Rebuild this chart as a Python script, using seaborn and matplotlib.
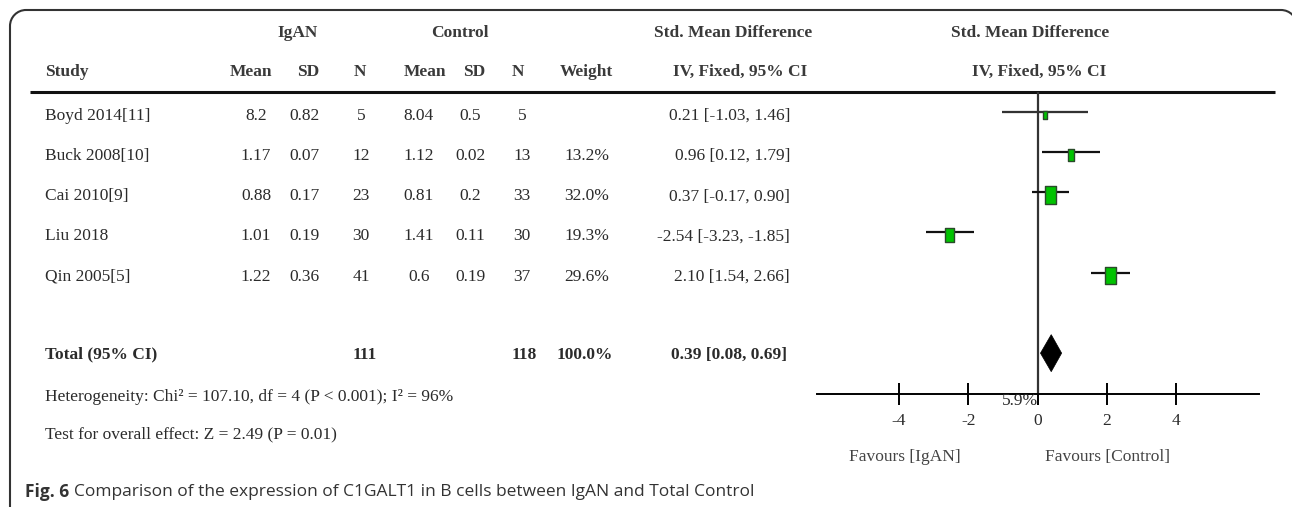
import matplotlib
matplotlib.use("Agg")
import matplotlib.pyplot as plt
import matplotlib.transforms as mtransforms
from matplotlib.patches import PathPatch, Polygon
from matplotlib.path import Path
import numpy as np
import pandas as pd
import seaborn as sns

# ---- study data -------------------------------------------------------
studies = ["Boyd 2014[11]", "Buck 2008[10]", "Cai 2010[9]", "Liu 2018", "Qin 2005[5]"]
igan_mean = [8.2, 1.17, 0.88, 1.01, 1.22]
igan_sd = [0.82, 0.07, 0.17, 0.19, 0.36]
igan_n = [5, 12, 23, 30, 41]
ctrl_mean = [8.04, 1.12, 0.81, 1.41, 0.6]
ctrl_sd = [0.5, 0.02, 0.2, 0.11, 0.19]
ctrl_n = [5, 13, 33, 30, 37]
weight = [5.9, 13.2, 32.0, 19.3, 29.6]
smd = [0.21, 0.96, 0.37, -2.54, 2.10]
ci_low = [-1.03, 0.12, -0.17, -3.23, 1.54]
ci_high = [1.46, 1.79, 0.90, -1.85, 2.66]

total_igan_n = 111
total_ctrl_n = 118
total_weight = 100.0
total_smd = 0.39
total_low = 0.08
total_high = 0.69

heterogeneity = "Heterogeneity: Chi² = 107.10, df = 4 (P < 0.001); I² = 96%"
overall = "Test for overall effect: Z = 2.49 (P = 0.01)"
axis_ticks = [-4, -2, 0, 2, 4]
favours = ["Favours [IgAN]", "Favours [Control]"]
caption_bold = "Fig. 6"
caption_text = "Comparison of the expression of C1GALT1 in B cells between IgAN and Total Control"

df = pd.DataFrame({"study": studies, "smd": smd, "low": ci_low, "high": ci_high,
                   "weight": weight, "row": np.arange(len(studies))})
total_row = len(studies) + 1

# ---- figure -----------------------------------------------------------
sns.set_theme(style="white")
plt.rcParams["font.family"] = ["Liberation Serif", "DejaVu Serif"]
W, H = 1292, 507
fig = plt.figure(figsize=(W / 100, H / 100), dpi=100)

# full-figure canvas in pixel units for the table and frame
axt = fig.add_axes([0, 0, 1, 1])
axt.set_xlim(0, W)
axt.set_ylim(H, 0)
axt.axis("off")

# forest panel
x0_px, x1_px, top_px, bot_px = 816.7, 1258.7, 92, 394
axf = fig.add_axes([x0_px / W, 1 - bot_px / H, (x1_px - x0_px) / W, (bot_px - top_px) / H])
axf.set_facecolor("none")
axf.set_xlim(-6.37, 6.37)
axf.set_ylim(7.015, -0.49)

ink = "#2b2b2b"

# frame: rounded top corners, open at the bottom, right side beyond the canvas
r = 16
left, top, right, bottom = 10, 10, 1297, 600
k = 0.5523 * r
verts = [(left, bottom), (left, top + r),
         (left, top + r - k), (left + r - k, top), (left + r, top),
         (right - r, top),
         (right - r + k, top), (right, top + r - k), (right, top + r),
         (right, bottom)]
codes = [Path.MOVETO, Path.LINETO,
         Path.CURVE4, Path.CURVE4, Path.CURVE4,
         Path.LINETO,
         Path.CURVE4, Path.CURVE4, Path.CURVE4,
         Path.LINETO]
axt.add_patch(PathPatch(Path(verts, codes), fc="none", ec="#333333", lw=1.5))
axt.hlines(92, 30, 1275, color="#111111", lw=2.2)

# table text: x in canvas pixels, y in forest rows
tr = mtransforms.blended_transform_factory(axt.transData, axf.transData)
fs = 12.5


def put(x, y, s, ha="center", bold=False, color=ink):
    axt.text(x, y, s, transform=tr, ha=ha, va="center", fontsize=fs,
             fontweight="bold" if bold else "normal", color=color, clip_on=False)


hdr1, hdr2 = -1.955, -0.99
hdr_col = "#3a3a3a"
put(298, hdr1, "IgAN", bold=True, color=hdr_col)
put(460, hdr1, "Control", bold=True, color=hdr_col)
put(733, hdr1, "Std. Mean Difference", bold=True, color=hdr_col)
put(1030, hdr1, "Std. Mean Difference", bold=True, color=hdr_col)
put(45, hdr2, "Study", ha="left", bold=True, color=hdr_col)
for x, s in [(251, "Mean"), (308, "SD"), (360, "N"), (425, "Mean"), (474, "SD"),
             (518, "N"), (586, "Weight"), (740, "IV, Fixed, 95% CI"), (1039, "IV, Fixed, 95% CI")]:
    put(x, hdr2, s, bold=True, color=hdr_col)

for i, name in enumerate(studies):
    y = i + 0.1
    put(45, y, name, ha="left")
    put(256, y, str(igan_mean[i]))
    put(304, y, str(igan_sd[i]))
    put(361, y, str(igan_n[i]))
    put(419, y, str(ctrl_mean[i]))
    put(470, y, str(ctrl_sd[i]))
    put(522, y, str(ctrl_n[i]))
    if i > 0:
        put(587, y, f"{weight[i]:.1f}%")
    put(790, y, f"{smd[i]:.2f} [{ci_low[i]:.2f}, {ci_high[i]:.2f}]", ha="right")

yt = total_row + 0.04
put(45, yt, "Total (95% CI)", ha="left", bold=True)
put(365, yt, str(total_igan_n), bold=True)
put(524, yt, str(total_ctrl_n), bold=True)
put(585, yt, f"{total_weight:.1f}%", bold=True)
put(787, yt, f"{total_smd:.2f} [{total_low:.2f}, {total_high:.2f}]", ha="right", bold=True)
put(45, 7.09, heterogeneity, ha="left")
put(45, 8.03, overall, ha="left")

# ---- forest marks -----------------------------------------------------
axf.axvline(0, color="#333333", lw=1.6, zorder=1)
axf.hlines(df["row"], df["low"], df["high"], color="#111111", lw=1.6, zorder=2)
axf.hlines(df["row"].iloc[:1], df["low"].iloc[:1], df["high"].iloc[:1], color="#333333", lw=1.4, zorder=2)

box = Path([(-0.3, -0.5), (0.3, -0.5), (0.3, 0.5), (-0.3, 0.5), (-0.3, -0.5)],
           [Path.MOVETO, Path.LINETO, Path.LINETO, Path.LINETO, Path.CLOSEPOLY])
sns.scatterplot(data=df, x="smd", y="row", size="weight", sizes=(0, 524), size_norm=(0, 100),
                marker=box, color="#00c300", edgecolor="#2a4a2a", linewidth=1.0,
                legend=False, ax=axf, zorder=3, clip_on=False)
coll = axf.collections[-1]
coll.set_offset_transform(axf.transData + mtransforms.ScaledTranslation(0, -0.03, fig.dpi_scale_trans))

half_h = 0.46
axf.add_patch(Polygon([(total_low, total_row), (total_smd, total_row - half_h),
                       (total_high, total_row), (total_smd, total_row + half_h)],
                      closed=True, fc="black", ec="black", lw=0.5, zorder=4))

axf.text(0, 7.2, f"{weight[0]:.1f}%", ha="right", va="center", fontsize=fs, color=ink, clip_on=False)
axf.text(-3.82, 8.58, favours[0], ha="center", va="center", fontsize=fs, color="#444444", clip_on=False)
axf.text(2.0, 8.58, favours[1], ha="center", va="center", fontsize=fs, color="#444444", clip_on=False)

# axis
for side in ["left", "right", "top"]:
    axf.spines[side].set_visible(False)
axf.spines["bottom"].set_color("black")
axf.spines["bottom"].set_linewidth(1.4)
axf.set_yticks([])
axf.set_xticks(axis_ticks)
axf.set_xticklabels([str(t) for t in axis_ticks])
axf.tick_params(axis="x", direction="inout", length=15.8, width=1.4, color="black",
                labelsize=fs, labelcolor=ink, pad=5.5, bottom=True)
axf.set_xlabel("")
axf.set_ylabel("")

# ---- caption ------------------------------------------------------------
cap_y = 1 - 492 / H
cap_fs = 12.5
t1 = fig.text(25 / W, cap_y, caption_bold, ha="left", va="center", fontsize=cap_fs,
              fontweight="bold", family=["Open Sans", "DejaVu Sans"], color="#333333")
fig.canvas.draw()
bb = t1.get_window_extent()
fig.text((bb.x1 + 5) / W, cap_y, caption_text, ha="left", va="center", fontsize=cap_fs,
         family=["Open Sans", "DejaVu Sans"], color="#333333")

fig.savefig("out.png", dpi=100)
